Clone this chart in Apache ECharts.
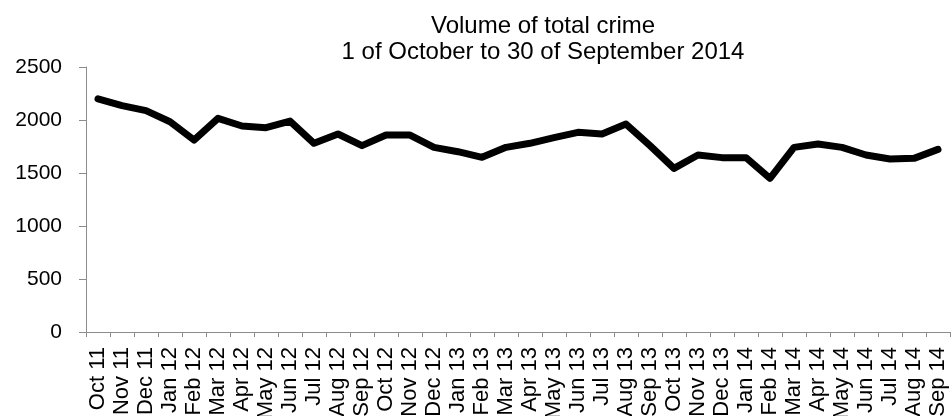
<!DOCTYPE html>
<html>
<head>
<meta charset="utf-8">
<script src="https://cdn.jsdelivr.net/npm/echarts@6/dist/echarts.min.js"></script>
<style>
html,body{margin:0;padding:0;background:#fff;}
#chart{width:952px;height:416px;}
</style>
</head>
<body>
<div id="chart"></div>
<script>
const categories = ["Oct 11","Nov 11","Dec 11","Jan 12","Feb 12","Mar 12","Apr 12","May 12","Jun 12","Jul 12","Aug 12","Sep 12",
  "Oct 12","Nov 12","Dec 12","Jan 13","Feb 13","Mar 13","Apr 13","May 13","Jun 13","Jul 13","Aug 13","Sep 13",
  "Oct 13","Nov 13","Dec 13","Jan 14","Feb 14","Mar 14","Apr 14","May 14","Jun 14","Jul 14","Aug 14","Sep 14"];
const crimeVolume = [2200,2135,2088,1984,1811,2016,1943,1927,1990,1780,1868,1758,
  1858,1858,1742,1701,1648,1742,1780,1833,1884,1868,1962,1758,
  1544,1670,1645,1645,1450,1742,1774,1742,1670,1632,1638,1723];
const titleLines = ["Volume of total crime","1 of October to 30 of September 2014"];
const yMin = 0, yMax = 2500, yStep = 500;

const font = '"Liberation Sans", Arial, sans-serif';
const chart = echarts.init(document.getElementById('chart'), null, {renderer:'canvas'});
chart.setOption({
  animation:false,
  backgroundColor:'#ffffff',
  title:{
    text:titleLines.join('\n'),
    left:538, top:8, textAlign:'center',
    textStyle:{fontFamily:font,fontSize:24,fontWeight:'normal',color:'#000',lineHeight:26}
  },
  grid:{left:86,right:2,top:67,bottom:84,containLabel:false,outerBoundsMode:'none'},
  xAxis:{
    type:'category',
    data:categories,
    boundaryGap:true,
    axisLine:{lineStyle:{color:'#8c8c8c',width:1}},
    axisTick:{show:true,alignWithLabel:false,length:5,lineStyle:{color:'#8c8c8c'}},
    axisLabel:{interval:0,rotate:90,margin:15,fontFamily:font,fontSize:22,color:'#000'},
    splitLine:{show:false}
  },
  yAxis:{
    type:'value',
    min:yMin,max:yMax,interval:yStep,
    axisLine:{show:true,lineStyle:{color:'#8c8c8c',width:1}},
    axisTick:{show:true,length:7,lineStyle:{color:'#8c8c8c'}},
    axisLabel:{margin:24,fontFamily:font,fontSize:21,color:'#000',formatter:function(v){return String(v);}},
    splitLine:{show:false}
  },
  series:[{
    type:'line',
    data:crimeVolume,
    showSymbol:false,
    symbol:'none',
    lineStyle:{color:'#000',width:7,join:'round',cap:'round'}
  }]
});
</script>
</body>
</html>
